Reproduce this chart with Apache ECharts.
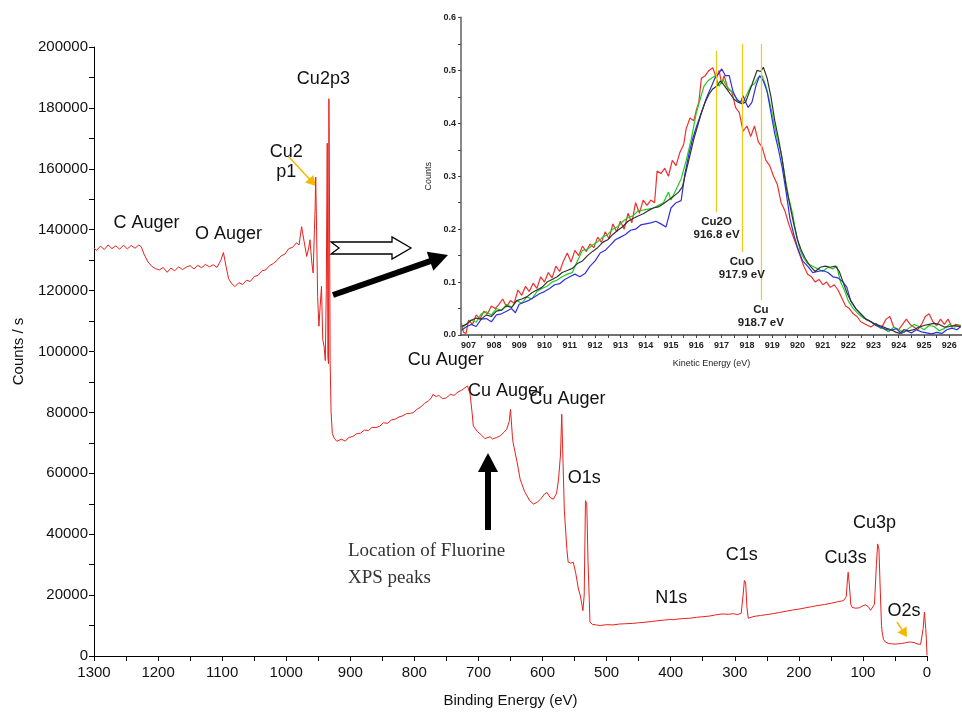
<!DOCTYPE html>
<html>
<head>
<meta charset="utf-8">
<script src="https://cdn.jsdelivr.net/npm/echarts@6.0.0/dist/echarts.min.js"></script>
<style>
  html, body { margin: 0; background: #fff; }
  #chart { width: 962px; height: 713px; }
</style>
</head>
<body>
<div id="chart"></div>
<script>
// survey spectrum, binding energy (eV) and counts / s
const surveyEnergy = [
  1300, 1296, 1290, 1284, 1278, 1272, 1266, 1260, 1254, 1248, 1242, 1236, 1230, 1226, 1222, 1216, 1210, 1204, 1198, 1192,
  1186, 1180, 1174, 1168, 1162, 1156, 1150, 1144, 1138, 1132, 1126, 1120, 1114, 1108, 1102, 1098, 1094, 1090, 1086, 1080,
  1074, 1068, 1062, 1056, 1050, 1044, 1038, 1032, 1026, 1020, 1014, 1008, 1002, 996, 990, 984, 980, 976, 972, 968,
  965, 963, 960, 958, 956, 955, 954, 953, 951, 949, 947, 945, 943, 941, 939, 937.5, 936, 935, 934, 933.4,
  932.5, 931.5, 930, 928, 925, 921, 919, 914, 908, 902, 896, 890, 884, 878, 872, 866, 860, 854, 848, 842,
  836, 830, 824, 818, 812, 806, 802, 796, 790, 784, 778, 774, 771, 766, 762, 756, 750, 744, 738, 732,
  726, 721, 717, 713, 710, 708, 702, 696, 690, 687, 682, 678, 672, 666, 660, 656, 652, 650, 647, 646,
  640, 635, 628, 620, 614, 608, 602, 597, 593, 588, 583, 578, 575, 572, 570, 568, 566, 562, 560, 556,
  552, 548, 544, 541, 537, 535, 533, 531, 529, 527, 526, 522, 516, 510, 500, 490, 480, 470, 460, 450,
  440, 430, 420, 410, 400, 398, 396, 390, 380, 370, 360, 350, 340, 330, 320, 310, 302, 296, 290, 287,
  285, 283, 281, 279, 276, 270, 260, 250, 240, 230, 220, 210, 200, 190, 180, 170, 160, 150, 140, 130,
  126, 124, 123, 121, 119, 117, 112, 106, 100, 96, 92, 88, 86, 82, 79, 77, 75, 73, 71, 70,
  68, 65, 60, 55, 50, 45, 40, 35, 30, 26, 23, 20, 18, 14, 10, 8, 6, 4, 2, 1, 0
];
const surveyCounts = [
  134000, 133200, 134600, 133500, 135000, 133800, 134700, 133600, 134900, 133700, 134800, 133900, 135000, 134300, 132000, 129500, 128000, 127200, 126800, 127600,
  126000, 127400, 126500, 127800, 126900, 127700, 128200, 127100, 128300, 127500, 128600, 127800, 128500, 127600, 130000, 132500, 128000, 124000, 122500, 121300,
  122600, 122000, 123400, 123000, 124600, 125000, 126500, 126800, 128200, 128900, 130000, 131400, 132000, 133800, 134200, 135700, 135000, 141000, 136000, 131200,
  134000, 136700, 129000, 125800, 140000, 146000, 157300, 145000, 118000, 108300, 115000, 121400, 103900, 101700, 97000, 120000, 168400, 98000, 96000, 183000,
  152000, 97000, 80000, 73000, 71500, 70500, 70100, 71200, 70600, 71800, 72100, 73000, 73200, 74200, 74000, 75100, 75000, 75500, 76600, 76400,
  77500, 77800, 78500, 78900, 79600, 79700, 79900, 81000, 81800, 83000, 83800, 84600, 85900, 85200, 85600, 84500, 84800, 85900, 85600, 86700,
  87300, 88100, 88700, 85900, 80000, 75500, 73800, 72700, 71400, 71200, 72000, 71300, 71700, 72300, 73500, 74400, 77000, 81000, 72000, 70100,
  64000, 58100, 54000, 51000, 49900, 50500, 51800, 53200, 53700, 52000, 51500, 53500, 58100, 66000, 79400, 63500, 48000, 35000, 30800, 30500,
  30800, 27000, 22000, 19800, 14900, 20000, 51000, 50000, 30800, 18000, 11100, 10400, 10200, 10000, 10300, 10200, 10500, 10600, 10700, 10900,
  11100, 11300, 11600, 11800, 12000, 12600, 11900, 12100, 12300, 12400, 12700, 12900, 13100, 13500, 13800, 13700, 13900, 13600, 14000, 20000,
  24800, 24000, 16000, 12400, 12700, 13000, 13300, 13600, 13900, 14300, 14700, 15100, 15400, 15800, 16200, 16600, 16900, 17300, 17800, 18200,
  19500, 25500, 27500, 23000, 17000, 16000, 15700, 15800, 16500, 16800, 16300, 15000, 14400, 17000, 30000, 36800, 35100, 22000, 10000, 7900,
  5500, 4600, 4100, 4000, 3900, 4000, 4100, 4300, 4500, 4600, 5100, 4400, 3800, 3900, 3800, 4000, 9000, 14400, 9000, 5700, 200
];

// inset: Cu LMM Auger, kinetic energy (eV) and counts
const augerRed = [
  [906.72, 0.022], [906.8, 0.005], [906.9, 0.003], [907.0, 0.028], [907.15, 0.02], [907.3, 0.038], [907.45, 0.03], [907.6, 0.045],
  [907.75, 0.04], [907.9, 0.055], [908.05, 0.05], [908.2, 0.058], [908.35, 0.068], [908.5, 0.053], [908.65, 0.065], [908.8, 0.06],
  [908.95, 0.085], [909.1, 0.075], [909.25, 0.092], [909.4, 0.082], [909.55, 0.098], [909.7, 0.088], [909.85, 0.11], [910.0, 0.1],
  [910.15, 0.118], [910.3, 0.108], [910.45, 0.13], [910.6, 0.12], [910.75, 0.14], [910.9, 0.155], [911.05, 0.138], [911.2, 0.16],
  [911.35, 0.15], [911.5, 0.168], [911.65, 0.158], [911.8, 0.172], [911.95, 0.165], [912.1, 0.185], [912.25, 0.175], [912.4, 0.195],
  [912.55, 0.182], [912.7, 0.21], [912.85, 0.195], [913.0, 0.215], [913.15, 0.2], [913.3, 0.23], [913.45, 0.212], [913.6, 0.25],
  [913.75, 0.23], [913.9, 0.255], [914.05, 0.245], [914.2, 0.255], [914.35, 0.25], [914.45, 0.31], [914.6, 0.305], [914.75, 0.315],
  [914.9, 0.3], [915.05, 0.33], [915.2, 0.32], [915.35, 0.345], [915.5, 0.36], [915.6, 0.39], [915.75, 0.41], [915.9, 0.405],
  [916.0, 0.425], [916.1, 0.44], [916.2, 0.485], [916.35, 0.49], [916.5, 0.5], [916.65, 0.505], [916.8, 0.485], [916.9, 0.5],
  [917.0, 0.475], [917.1, 0.49], [917.25, 0.465], [917.4, 0.46], [917.55, 0.43], [917.7, 0.42], [917.85, 0.385], [918.0, 0.395],
  [918.15, 0.375], [918.3, 0.395], [918.45, 0.365], [918.6, 0.355], [918.75, 0.33], [918.9, 0.32], [919.05, 0.3], [919.2, 0.285],
  [919.35, 0.25], [919.5, 0.235], [919.65, 0.21], [919.8, 0.19], [919.95, 0.17], [920.1, 0.15], [920.25, 0.13], [920.4, 0.115],
  [920.55, 0.11], [920.7, 0.1], [920.85, 0.105], [921.0, 0.095], [921.15, 0.1], [921.3, 0.09], [921.45, 0.095], [921.6, 0.085],
  [921.75, 0.07], [921.9, 0.055], [922.05, 0.05], [922.2, 0.04], [922.35, 0.035], [922.5, 0.025], [922.7, 0.02], [922.9, 0.015],
  [923.1, 0.022], [923.3, 0.012], [923.5, 0.03], [923.65, 0.035], [923.8, 0.015], [924.0, 0.01], [924.15, 0.02], [924.3, 0.03],
  [924.45, 0.02], [924.6, 0.015], [924.75, 0.01], [924.9, 0.02], [925.05, 0.035], [925.2, 0.04], [925.35, 0.025], [925.5, 0.018],
  [925.65, 0.03], [925.8, 0.02], [925.95, 0.03], [926.1, 0.015], [926.25, 0.02], [926.45, 0.018]
];
const augerGreen = [
  [906.72, 0.013], [906.9, 0.02], [907.1, 0.028], [907.3, 0.024], [907.5, 0.04], [907.7, 0.044], [907.9, 0.038], [908.1, 0.05],
  [908.3, 0.046], [908.5, 0.058], [908.7, 0.052], [908.9, 0.065], [909.1, 0.06], [909.3, 0.072], [909.5, 0.068], [909.7, 0.082],
  [909.9, 0.088], [910.1, 0.092], [910.3, 0.1], [910.5, 0.104], [910.7, 0.11], [910.9, 0.115], [911.1, 0.118], [911.3, 0.14],
  [911.5, 0.16], [911.7, 0.162], [911.9, 0.17], [912.1, 0.176], [912.3, 0.185], [912.5, 0.19], [912.7, 0.2], [912.9, 0.205],
  [913.1, 0.215], [913.3, 0.222], [913.5, 0.225], [913.7, 0.235], [913.9, 0.236], [914.1, 0.238], [914.3, 0.24], [914.5, 0.245],
  [914.7, 0.25], [914.9, 0.27], [915.0, 0.255], [915.2, 0.275], [915.4, 0.295], [915.6, 0.33], [915.8, 0.37], [916.0, 0.42],
  [916.15, 0.445], [916.3, 0.47], [916.45, 0.48], [916.6, 0.485], [916.75, 0.49], [916.9, 0.47], [917.05, 0.483], [917.2, 0.47],
  [917.4, 0.46], [917.55, 0.45], [917.7, 0.44], [917.85, 0.44], [918.0, 0.455], [918.15, 0.47], [918.3, 0.475], [918.45, 0.487],
  [918.6, 0.49], [918.75, 0.47], [918.9, 0.44], [919.05, 0.405], [919.2, 0.37], [919.35, 0.345], [919.5, 0.3], [919.65, 0.26],
  [919.8, 0.23], [919.95, 0.19], [920.1, 0.16], [920.25, 0.145], [920.4, 0.135], [920.6, 0.13], [920.8, 0.125], [921.0, 0.12],
  [921.2, 0.128], [921.4, 0.125], [921.55, 0.13], [921.7, 0.1], [921.85, 0.085], [922.0, 0.065], [922.2, 0.05], [922.4, 0.04],
  [922.6, 0.032], [922.8, 0.028], [923.0, 0.022], [923.2, 0.015], [923.4, 0.012], [923.6, 0.006], [923.8, 0.015], [924.0, 0.01],
  [924.2, 0.005], [924.4, 0.013], [924.6, 0.02], [924.8, 0.016], [925.0, 0.01], [925.2, 0.018], [925.4, 0.016], [925.6, 0.008],
  [925.8, 0.012], [926.0, 0.02], [926.2, 0.015], [926.45, 0.019]
];
const augerBlue = [
  [906.72, 0.009], [906.9, 0.015], [907.1, 0.02], [907.3, 0.016], [907.5, 0.03], [907.7, 0.031], [907.9, 0.025], [908.1, 0.038],
  [908.3, 0.04], [908.5, 0.045], [908.7, 0.05], [908.85, 0.042], [909.0, 0.058], [909.2, 0.062], [909.4, 0.066], [909.6, 0.072],
  [909.8, 0.078], [910.0, 0.082], [910.2, 0.088], [910.4, 0.095], [910.6, 0.097], [910.8, 0.105], [911.0, 0.11], [911.2, 0.115],
  [911.4, 0.11], [911.6, 0.116], [911.8, 0.13], [912.0, 0.14], [912.2, 0.155], [912.4, 0.16], [912.6, 0.17], [912.8, 0.18],
  [913.0, 0.185], [913.2, 0.19], [913.4, 0.198], [913.6, 0.2], [913.8, 0.208], [914.0, 0.21], [914.2, 0.212], [914.4, 0.215],
  [914.6, 0.21], [914.8, 0.204], [915.0, 0.24], [915.2, 0.25], [915.4, 0.254], [915.55, 0.305], [915.7, 0.34], [915.85, 0.37],
  [916.0, 0.393], [916.2, 0.42], [916.4, 0.448], [916.6, 0.47], [916.75, 0.487], [916.9, 0.495], [917.0, 0.503], [917.15, 0.49],
  [917.3, 0.49], [917.45, 0.46], [917.6, 0.445], [917.75, 0.44], [917.85, 0.452], [917.95, 0.44], [918.05, 0.43], [918.2, 0.44],
  [918.35, 0.47], [918.5, 0.49], [918.65, 0.48], [918.8, 0.46], [918.95, 0.42], [919.1, 0.38], [919.25, 0.35], [919.4, 0.315],
  [919.55, 0.27], [919.7, 0.22], [919.85, 0.19], [920.0, 0.165], [920.2, 0.14], [920.4, 0.13], [920.6, 0.118], [920.8, 0.12],
  [921.0, 0.122], [921.2, 0.118], [921.4, 0.11], [921.6, 0.108], [921.8, 0.1], [921.95, 0.09], [922.1, 0.065], [922.3, 0.05],
  [922.5, 0.04], [922.7, 0.03], [922.9, 0.025], [923.1, 0.018], [923.3, 0.015], [923.5, 0.01], [923.7, 0.009], [923.9, 0.012],
  [924.1, 0.003], [924.3, 0.008], [924.5, 0.004], [924.7, 0.01], [924.9, 0.006], [925.1, 0.004], [925.3, 0.002], [925.5, 0.005],
  [925.7, 0.003], [925.9, 0.01], [926.1, 0.013], [926.3, 0.01], [926.45, 0.016]
];
const augerBlack = [
  [906.72, 0.016], [906.9, 0.02], [907.1, 0.028], [907.3, 0.032], [907.5, 0.03], [907.7, 0.038], [907.9, 0.035], [908.1, 0.045],
  [908.3, 0.047], [908.5, 0.055], [908.7, 0.052], [908.9, 0.065], [909.1, 0.068], [909.3, 0.072], [909.5, 0.08], [909.7, 0.085],
  [909.9, 0.09], [910.1, 0.1], [910.3, 0.105], [910.5, 0.11], [910.7, 0.118], [910.9, 0.122], [911.1, 0.126], [911.3, 0.135],
  [911.5, 0.14], [911.7, 0.15], [911.9, 0.158], [912.1, 0.165], [912.3, 0.175], [912.5, 0.18], [912.7, 0.19], [912.9, 0.198],
  [913.1, 0.205], [913.3, 0.215], [913.5, 0.22], [913.7, 0.225], [913.9, 0.229], [914.1, 0.235], [914.3, 0.24], [914.5, 0.242],
  [914.7, 0.248], [914.9, 0.255], [915.1, 0.262], [915.3, 0.27], [915.45, 0.28], [915.6, 0.31], [915.75, 0.34], [915.9, 0.37],
  [916.05, 0.395], [916.2, 0.42], [916.35, 0.44], [916.5, 0.455], [916.65, 0.465], [916.8, 0.47], [916.95, 0.48], [917.05, 0.475],
  [917.2, 0.465], [917.35, 0.455], [917.5, 0.445], [917.65, 0.44], [917.8, 0.437], [917.95, 0.44], [918.1, 0.46], [918.25, 0.48],
  [918.4, 0.5], [918.55, 0.498], [918.65, 0.506], [918.8, 0.485], [918.95, 0.45], [919.1, 0.405], [919.25, 0.37], [919.4, 0.33],
  [919.55, 0.28], [919.7, 0.245], [919.85, 0.21], [920.0, 0.18], [920.15, 0.16], [920.3, 0.145], [920.5, 0.13], [920.7, 0.12],
  [920.9, 0.128], [921.1, 0.13], [921.3, 0.128], [921.5, 0.13], [921.65, 0.12], [921.8, 0.1], [921.95, 0.08], [922.1, 0.065],
  [922.3, 0.05], [922.5, 0.04], [922.7, 0.03], [922.9, 0.025], [923.1, 0.02], [923.3, 0.017], [923.5, 0.013], [923.7, 0.01],
  [923.9, 0.005], [924.05, 0.003], [924.2, 0.01], [924.4, 0.008], [924.6, 0.01], [924.8, 0.015], [925.0, 0.018], [925.2, 0.02],
  [925.4, 0.022], [925.6, 0.02], [925.8, 0.015], [926.0, 0.016], [926.2, 0.018], [926.45, 0.016]
];

const insetTickLabels = [907, 908, 909, 910, 911, 912, 913, 914, 915, 916, 917, 918, 919, 920, 921, 922, 923, 924, 925, 926];
const insetMinorTicks = insetTickLabels.flatMap(v => [v, v + 0.5]);

// peak names in the survey and where they sit (BE, counts)
const peakNames = ['C Auger', 'O Auger', 'Cu2p3', 'Cu2\np1', 'Cu Auger', 'Cu Auger', 'Cu Auger', 'O1s', 'N1s', 'C1s', 'Cu3s', 'Cu3p', 'O2s'];
const peakAnchors = [
  [1218, 142300], [1090, 138600], [942, 189600], [1000, 162300], [751, 97100], [657, 87000], [561, 84500],
  [535, 58600], [399, 19100], [289, 33200], [127, 32100], [82, 43700], [36, 14700]
];

// reference lines in the inset: [energy, top, bottom, text]
const refLines = [
  [916.8, 0.537, 0.232, 'Cu2O\n916.8 eV'],
  [917.8, 0.55, 0.157, 'CuO\n917.9 eV'],
  [918.55, 0.55, 0.066, 'Cu\n918.7 eV']
];

const FONT = 'Liberation Sans, Arial, sans-serif';

function arrow(x1, y1, x2, y2, width, headLen, headWidth, color) {
  const len = Math.hypot(x2 - x1, y2 - y1);
  const ux = (x2 - x1) / len, uy = (y2 - y1) / len;
  const bx = x2 - ux * headLen, by = y2 - uy * headLen;
  const px = -uy * headWidth / 2, py = ux * headWidth / 2;
  return [
    { type: 'polyline', silent: true, shape: { points: [[x1, y1], [bx + ux, by + uy]] },
      style: { stroke: color, lineWidth: width, fill: null } },
    { type: 'polygon', silent: true, shape: { points: [[x2, y2], [bx + px, by + py], [bx - px, by - py]] },
      style: { fill: color } }
  ];
}

const chart = echarts.init(document.getElementById('chart'), null, { renderer: 'canvas' });

const option = {
  animation: false,
  backgroundColor: '#fff',
  textStyle: { fontFamily: FONT },
  grid: [
    { left: 94, top: 47, width: 833, height: 610 },
    { left: 461, top: 17.5, width: 501, height: 317.5 }
  ],
  xAxis: [
    {
      gridIndex: 0, type: 'value', min: 0, max: 1300, interval: 100, inverse: true,
      name: 'Binding Energy (eV)', nameLocation: 'middle', nameGap: 37,
      nameTextStyle: { fontSize: 15, color: '#111', fontFamily: FONT },
      axisLine: { onZero: false, lineStyle: { color: '#000', width: 1 } },
      axisTick: { length: 5, lineStyle: { color: '#000' } },
      minorTick: { show: true, splitNumber: 2, length: 5, lineStyle: { color: '#000' } },
      axisLabel: { fontSize: 15, color: '#111', margin: 9, fontFamily: FONT, formatter: v => String(v) },
      splitLine: { show: false }
    },
    {
      gridIndex: 1, type: 'value', min: 906.7, max: 926.5,
      name: 'Kinetic Energy (eV)', nameLocation: 'middle', nameGap: 24,
      nameTextStyle: { fontSize: 9, color: '#222', fontFamily: FONT },
      axisLine: { onZero: false, lineStyle: { color: '#444', width: 1.5 } },
      axisTick: { length: 3, customValues: insetMinorTicks, lineStyle: { color: '#444' } },
      axisLabel: { customValues: insetTickLabels, fontSize: 9, fontWeight: 'bold', color: '#222', margin: 6, fontFamily: FONT },
      splitLine: { show: false }
    }
  ],
  yAxis: [
    {
      gridIndex: 0, type: 'value', min: 0, max: 200000, interval: 20000,
      name: 'Counts / s', nameLocation: 'middle', nameGap: 68,
      nameTextStyle: { fontSize: 15, color: '#111', fontFamily: FONT },
      axisLine: { show: true, onZero: false, lineStyle: { color: '#000', width: 1 } },
      axisTick: { show: true, length: 5, lineStyle: { color: '#000' } },
      minorTick: { show: true, splitNumber: 2, length: 5, lineStyle: { color: '#000' } },
      axisLabel: { fontSize: 15, color: '#111', margin: 6, fontFamily: FONT, formatter: v => String(v) },
      splitLine: { show: false }
    },
    {
      gridIndex: 1, type: 'value', min: 0, max: 0.6, interval: 0.1,
      name: 'Counts', nameLocation: 'middle', nameGap: 26,
      nameTextStyle: { fontSize: 9, color: '#222', fontFamily: FONT },
      axisLine: { show: true, onZero: false, lineStyle: { color: '#888', width: 2 } },
      axisTick: { show: true, length: 3, lineStyle: { color: '#444' } },
      minorTick: { show: true, splitNumber: 2, length: 3, lineStyle: { color: '#444' } },
      axisLabel: { fontSize: 9, fontWeight: 'bold', color: '#222', margin: 5, fontFamily: FONT,
        formatter: v => v.toFixed(1) },
      splitLine: { show: false }
    }
  ],
  series: [
    {
      type: 'line', xAxisIndex: 0, yAxisIndex: 0, showSymbol: false, silent: true,
      data: surveyEnergy.map((e, i) => [e, surveyCounts[i]]),
      lineStyle: { color: '#e8201c', width: 1 }
    },
    {
      type: 'scatter', xAxisIndex: 0, yAxisIndex: 0, symbolSize: 0, silent: true,
      itemStyle: { opacity: 1 },
      data: peakNames.map((n, i) => ({ name: n, value: peakAnchors[i] })),
      label: { show: true, position: 'inside', formatter: '{b}', fontSize: 18, lineHeight: 20,
        color: '#111', textBorderWidth: 0, fontFamily: FONT }
    },
    {
      type: 'line', xAxisIndex: 1, yAxisIndex: 1, showSymbol: false, silent: true,
      data: augerRed, lineStyle: { color: '#ee3030', width: 1.2 },
      markLine: {
        silent: true, symbol: 'none',
        lineStyle: { color: '#f5c518', width: 1.2, type: 'solid' },
        label: { show: true, position: 'end', distance: 3, fontSize: 11.5, fontWeight: 'bold', lineHeight: 13,
          color: '#222', fontFamily: FONT, formatter: p => p.name },
        data: refLines.map(r => [
          { coord: [r[0], r[1]], name: r[3] },
          { coord: [r[0], r[2]] }
        ])
      }
    },
    {
      type: 'line', xAxisIndex: 1, yAxisIndex: 1, showSymbol: false, silent: true,
      data: augerGreen, lineStyle: { color: '#22cc22', width: 1.2 }
    },
    {
      type: 'line', xAxisIndex: 1, yAxisIndex: 1, showSymbol: false, silent: true,
      data: augerBlue, lineStyle: { color: '#3030e0', width: 1.2 }
    },
    {
      type: 'line', xAxisIndex: 1, yAxisIndex: 1, showSymbol: false, silent: true,
      data: augerBlack, lineStyle: { color: '#333333', width: 1.2 }
    }
  ],
  graphic: [
    ...arrow(289, 157, 316, 186, 1.5, 10, 11, '#f5b800'),
    ...arrow(897, 622, 907, 637, 1.5, 9, 11, '#f5b800'),
    ...arrow(333, 295, 448, 255, 6, 19, 20, '#000'),
    ...arrow(488, 530, 488, 453, 6, 19, 20, '#000'),
    {
      type: 'polygon', silent: true,
      shape: { points: [[331, 242], [392, 242], [392, 237], [411, 248], [392, 259], [392, 254], [331, 254], [339, 248]] },
      style: { fill: '#fff', stroke: '#000', lineWidth: 1.3 }
    },
    {
      type: 'text', silent: true, left: 348, top: 538,
      style: { text: 'Location of Fluorine\nXPS peaks', fontSize: 19, lineHeight: 27,
        fontFamily: 'Liberation Serif, Times New Roman, serif', fill: '#333' }
    }
  ]
};

chart.setOption(option);
</script>
</body>
</html>
